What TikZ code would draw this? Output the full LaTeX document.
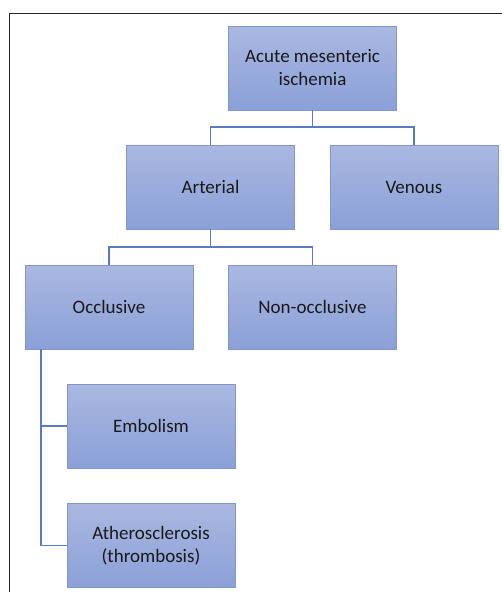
\documentclass[tikz,border=0pt]{standalone}
\usepackage{fontspec}
\setmainfont{Carlito}
\begin{document}
\begin{tikzpicture}[x=1pt,y=-1pt,
  box/.style={rectangle, draw=boxline, line width=0.8pt, top color=boxtop, bottom color=boxbot,
    minimum width=168pt, minimum height=84pt, inner sep=0pt, outer sep=0pt,
    align=center, text=black!90, font=\fontsize{19}{23}\selectfont},
  conn/.style={draw=connc, line width=1.2pt}]
\definecolor{boxtop}{HTML}{AAB8E1}
\definecolor{boxbot}{HTML}{8BA0D8}
\definecolor{boxline}{HTML}{8298CC}
\definecolor{connc}{HTML}{5A7BC2}
\useasboundingbox (0,0) rectangle (502,592);
\draw[line width=1.3pt, black!85] (9.5,592) -- (9.5,13.5) -- (502,13.5);
\node[box] (top) at (312.5,68) {Acute mesenteric\\ischemia};
\node[box] (art) at (210.5,187) {Arterial};
\node[box] (ven) at (414,187) {Venous};
\node[box] (occ) at (109,307) {Occlusive};
\node[box] (non) at (312.5,307) {Non-occlusive};
\node[box] (emb) at (151,426) {Embolism};
\node[box] (ath) at (151,545.5) {Atherosclerosis\\(thrombosis)};
\draw[conn] (top.south) -- ++(0,17) -| (art.north);
\draw[conn] (top.south) -- ++(0,17) -| (ven.north);
\draw[conn] (art.south) -- ++(0,18) -| (occ.north);
\draw[conn] (art.south) -- ++(0,18) -| (non.north);
\draw[conn] ([xshift=16pt]occ.south west) |- (emb.west);
\draw[conn] ([xshift=16pt]occ.south west) |- (ath.west);
\end{tikzpicture}
\end{document}
